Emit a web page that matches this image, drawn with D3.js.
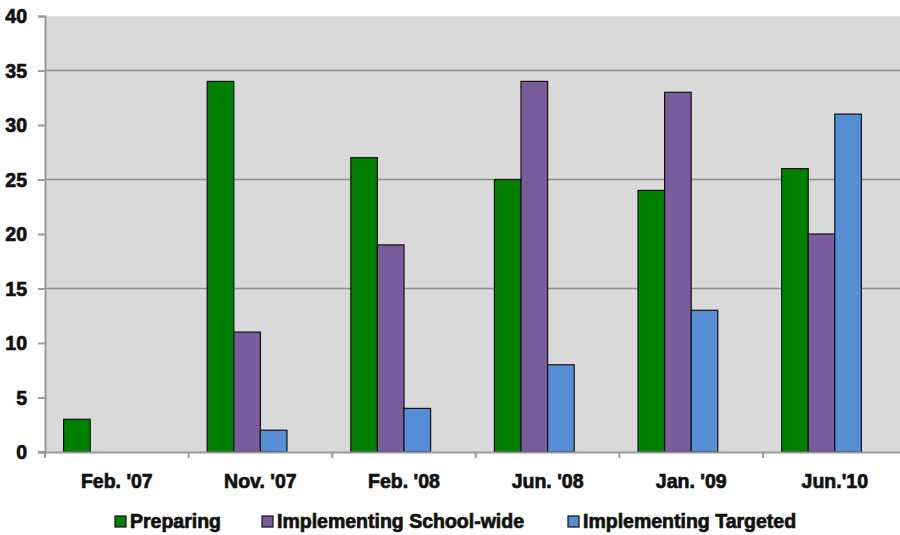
<!DOCTYPE html>
<html>
<head>
<meta charset="utf-8">
<script src="https://cdn.jsdelivr.net/npm/d3@7"></script>
<style>
  html, body { margin: 0; padding: 0; background: #fff; }
  svg { display: block; }
  text { font-family: "Liberation Sans", Arial, sans-serif; font-weight: bold; fill: #111; stroke: #111; stroke-width: 0.7px; }
</style>
</head>
<body>
<svg id="chart" width="900" height="535"></svg>
<script>
const categories = ["Feb. '07", "Nov. '07", "Feb. '08", "Jun. '08", "Jan. '09", "Jun.'10"];
const seriesNames = ["Preparing", "Implementing School-wide", "Implementing Targeted"];
const preparing = [3, 34, 27, 25, 24, 26];
const schoolWide = [null, 11, 19, 34, 33, 20];
const targeted = [null, 2, 4, 8, 13, 31];
const colors = ["#008000", "#785c9c", "#558ed5"];
const yTicks = [0, 5, 10, 15, 20, 25, 30, 35, 40];
const gridValues = [15, 25, 35];

const seriesValues = [preparing, schoolWide, targeted];

const svg = d3.select("#chart");
const mLeft = 45, mTop = 16, mBottom = 452, bandW = 143.6;
const mRight = mLeft + bandW * categories.length;

const x = d3.scaleBand().domain(categories).range([mLeft, mRight]).padding(0);
const y = d3.scaleLinear().domain([0, 40]).range([mBottom, mTop]);

// Excel-style cluster: room for 4 slots with gap
const barW = x.bandwidth() / 5.4;
const offset = x.bandwidth() * 0.7 / 5.4;
const x1 = d3.scaleBand().domain(seriesNames).range([offset, offset + barW * 3]).padding(0);

// plot background
svg.append("rect").attr("x", mLeft).attr("y", mTop).attr("width", mRight - mLeft).attr("height", mBottom - mTop).attr("fill", "#d9d9d9");
svg.append("line").attr("x1", mLeft).attr("x2", mRight).attr("y1", mTop + 0.5).attr("y2", mTop + 0.5).attr("stroke", "#e4e4e4").attr("stroke-width", 1);

// gridlines
svg.append("g").selectAll("line").data(gridValues).join("line")
  .attr("x1", mLeft).attr("x2", mRight)
  .attr("y1", d => y(d)).attr("y2", d => y(d))
  .attr("stroke", "#8e8e8e").attr("stroke-width", 1.5);

// bars
const groups = svg.append("g").selectAll("g").data(categories).join("g")
  .attr("transform", d => `translate(${x(d)},0)`);
groups.selectAll("rect")
  .data((c, i) => seriesNames.map((s, k) => ({ s, k, v: seriesValues[k][i] })).filter(d => d.v != null))
  .join("rect")
  .attr("x", d => x1(d.s))
  .attr("width", x1.bandwidth())
  .attr("y", d => y(d.v))
  .attr("height", d => y(0) - y(d.v))
  .attr("fill", d => colors[d.k])
  .attr("stroke", "#111")
  .attr("stroke-width", 1.2);

// y axis
const yAxis = d3.axisLeft(y).tickValues(yTicks).tickSize(7).tickPadding(11);
const gy = svg.append("g").attr("transform", `translate(${mLeft},0)`).call(yAxis);
gy.selectAll("path.domain").attr("stroke", "#9a9a9a").attr("stroke-width", 2);
gy.selectAll(".tick line").attr("stroke", "#9a9a9a").attr("stroke-width", 2);
gy.selectAll("text").style("font-size", "19.5px").attr("dy", "0.35em").attr("fill", "#111");

// x axis
const xAxis = d3.axisBottom(x).tickSize(0).tickPadding(22);
const gx = svg.append("g").attr("transform", `translate(0,${mBottom})`).call(xAxis);
gx.selectAll("path.domain").attr("stroke", "#9a9a9a").attr("stroke-width", 2);
gx.selectAll("text").style("font-size", "19.5px").attr("fill", "#111");
// x tick marks at band boundaries
svg.append("g").selectAll("line").data(categories).join("line")
  .attr("x1", d => x(d)).attr("x2", d => x(d))
  .attr("y1", mBottom).attr("y2", mBottom + 6)
  .attr("stroke", "#9a9a9a").attr("stroke-width", 2);
svg.append("line").attr("x1", mLeft - 7).attr("x2", mLeft).attr("y1", mBottom).attr("y2", mBottom).attr("stroke", "#9a9a9a").attr("stroke-width", 2);

// legend
const legendX = [115, 262, 568];
const lg = svg.append("g").selectAll("g").data(seriesNames).join("g")
  .attr("transform", (d, i) => `translate(${legendX[i]},516)`);
lg.append("rect").attr("width", 11).attr("height", 11)
  .attr("fill", (d, i) => colors[i]).attr("stroke", "#111").attr("stroke-width", 1.2);
lg.append("text").attr("x", 15).attr("y", 12).style("font-size", "19.5px").text(d => d);
</script>
</body>
</html>
